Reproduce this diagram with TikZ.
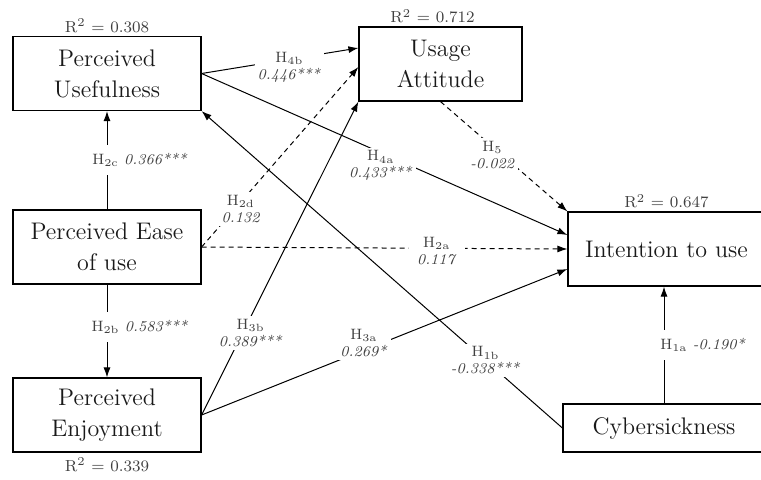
\documentclass[tikz,border=0pt]{standalone}
\usepackage{tikz}
\usetikzlibrary{arrows.meta, positioning, calc}

\begin{document}
\begin{tikzpicture}[x=0.5pt, y=-0.5pt,
  construct/.style={draw, rectangle, line width=0.6pt, minimum width=94pt, minimum height=37pt, align=center, text=black!90, font=\fontsize{12}{15.5}\selectfont},
  rsq/.style={inner sep=1.5pt, text=black!75, font=\fontsize{8}{9}\selectfont},
  link/.style={-{Latex[length=5pt,width=3.5pt]}, line width=0.5pt},
  nslink/.style={link, dash pattern=on 2.5pt off 2pt},
  hyp/.style={fill=white, align=center, inner sep=1.5pt, text=black!75, font=\fontsize{7.5}{8.5}\selectfont}]
\useasboundingbox (0,0) rectangle (761,479);

% constructs
\node[construct] (pu) at (107,73.5) {Perceived\\Usefulness};
\node[construct, minimum width=81.5pt] (ua) at (440.5,64) {Usage\\Attitude};
\node[construct] (peou) at (107,247) {Perceived Ease\\of use};
\node[construct] (pe) at (107,415) {Perceived\\Enjoyment};
\node[construct, minimum width=98.5pt] (itu) at (666.5,249) {Intention to use};
\node[construct, minimum width=101pt, minimum height=24pt] (cs) at (664,428) {Cybersickness};

% explained variance
\node[rsq, above=0pt of pu] {R\textsuperscript{2} = 0.308};
\node[rsq, above=0pt of ua, xshift=-4pt] {R\textsuperscript{2} = 0.712};
\node[rsq, above=0pt of itu] {R\textsuperscript{2} = 0.647};
\node[rsq, below=1pt of pe] {R\textsuperscript{2} = 0.339};

% paths
\draw[link] (peou) -- node[hyp, xshift=16.5pt, inner ysep=4pt] {H\textsubscript{2c} \textit{0.366***}} (pu);
\draw[link] (peou) -- node[hyp, xshift=16.5pt, yshift=2pt, inner ysep=4pt] {H\textsubscript{2b} \textit{0.583***}} (pe);
\draw[link] (pu.east) -- node[hyp, pos=0.56, yshift=-4pt] {H\textsubscript{4b}\\\textit{0.446***}} ([yshift=8pt]ua.west);
\draw[link] (pu.east) -- node[hyp, pos=0.49, yshift=-6.5pt] {H\textsubscript{4a}\\\textit{0.433***}} ([yshift=7pt]itu.west);
\draw[nslink] (ua.south) -- node[hyp, pos=0.41, yshift=-4pt] {H\textsubscript{5}\\\textit{-0.022}} (itu.north west);
\draw[nslink] (peou.east) -- node[hyp, pos=0.25, yshift=-3.5pt] {H\textsubscript{2d}\\\textit{0.132}} ([yshift=-1.5pt]ua.west);
\draw[nslink] (peou.east) -- node[hyp, pos=0.643, yshift=-1.5pt, inner xsep=4pt] {H\textsubscript{2a}\\\textit{0.117}} (itu.west);
\draw[link] (pe.east) -- node[hyp, pos=0.262, xshift=4pt] {H\textsubscript{3b}\\\textit{0.389***}} (ua.south west);
\draw[link] (pe.east) -- node[hyp, pos=0.444, yshift=3.5pt] {H\textsubscript{3a}\\\textit{0.269*}} ([yshift=-10pt]itu.west);
\draw[link] (cs.west) -- node[hyp, pos=0.213] {H\textsubscript{1b}\\\textit{-0.338***}} (pu.south east);
\draw[link] (cs) -- node[hyp, xshift=19.5pt, inner ysep=4pt] {H\textsubscript{1a} \textit{-0.190*}} (cs |- itu.south);
\end{tikzpicture}
\end{document}
